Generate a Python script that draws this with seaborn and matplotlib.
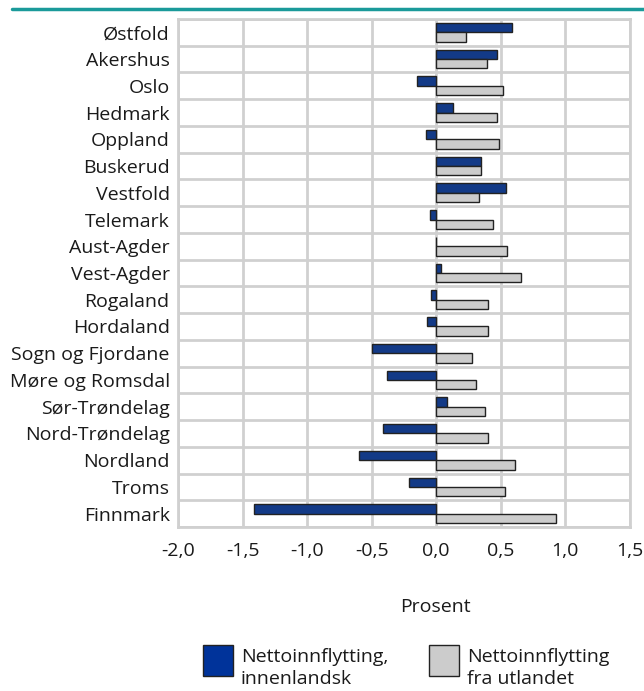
import matplotlib
matplotlib.use("Agg")
import matplotlib.pyplot as plt
from matplotlib.patches import Rectangle
from matplotlib.ticker import FuncFormatter, FixedLocator
import seaborn as sns
import pandas as pd

# Data
fylker = ["Østfold", "Akershus", "Oslo", "Hedmark", "Oppland", "Buskerud",
          "Vestfold", "Telemark", "Aust-Agder", "Vest-Agder", "Rogaland",
          "Hordaland", "Sogn og Fjordane", "Møre og Romsdal", "Sør-Trøndelag",
          "Nord-Trøndelag", "Nordland", "Troms", "Finnmark"]
innenlandsk = [0.59, 0.47, -0.15, 0.13, -0.08, 0.35, 0.54, -0.05, -0.005, 0.04,
               -0.04, -0.075, -0.50, -0.38, 0.08, -0.41, -0.60, -0.21, -1.41]
utlandet = [0.23, 0.39, 0.52, 0.47, 0.49, 0.35, 0.33, 0.44, 0.55, 0.66,
            0.40, 0.40, 0.28, 0.31, 0.38, 0.40, 0.61, 0.53, 0.93]
serier = ["Nettoinnflytting,\ninnenlandsk", "Nettoinnflytting\nfra utlandet"]
farger = ["#00339a", "#cccccc"]

df = pd.DataFrame({
    "fylke": fylker * 2,
    "verdi": innenlandsk + utlandet,
    "serie": [serier[0]] * len(fylker) + [serier[1]] * len(fylker),
})

sns.set_style("white")
plt.rcParams["font.family"] = ["Open Sans", "DejaVu Sans"]
fs = 14

W, H = 644, 691
fig = plt.figure(figsize=(6.44, 6.91), dpi=100)
ax = fig.add_axes([0.2764, 0.2373, 0.7016, 0.7352])

sns.barplot(data=df, x="verdi", y="fylke", hue="serie", orient="h",
            palette=farger, width=0.7, edgecolor="#222222", linewidth=1.0,
            ax=ax, legend=False)

ax.set_xlim(-2.0, 1.5)
ax.set_ylim(len(fylker) - 0.5, -0.5)
ax.set_xticks([-2.0, -1.5, -1.0, -0.5, 0.0, 0.5, 1.0, 1.5])
ax.xaxis.set_major_formatter(FuncFormatter(lambda v, p: f"{v:.1f}".replace(".", ",")))
ax.yaxis.set_minor_locator(FixedLocator([i + 0.5 for i in range(-1, len(fylker))]))
ax.grid(True, axis="x", which="major", color="#d0d0d0", linewidth=2)
ax.grid(True, axis="y", which="minor", color="#d0d0d0", linewidth=2)
ax.set_axisbelow(True)
for s in ax.spines.values():
    s.set_color("#d0d0d0")
    s.set_linewidth(2)
ax.tick_params(axis="both", which="both", length=0, labelsize=fs, colors="#1a1a1a")
ax.tick_params(axis="y", pad=6)
ax.tick_params(axis="x", pad=11)
ax.set_xlabel("")
ax.set_ylabel("")

fig.text(435 / W, 1 - 607 / H, "Prosent", ha="center", va="center",
         fontsize=fs, color="#1a1a1a")

# teal line at the top
fig.add_artist(plt.Line2D([12 / W, 1.0], [1 - 9 / H, 1 - 9 / H],
                          color="#1a9a9a", linewidth=2.5))

# legend, drawn by hand so the squares sit at the top of the text
for x0, farge, tekst in zip([203, 429], farger, serier):
    fig.add_artist(Rectangle((x0 / W, 1 - 676 / H), 30 / W, 31 / H,
                             transform=fig.transFigure, facecolor=farge,
                             edgecolor="#222222", linewidth=1.0))
    fig.text((x0 + 38) / W, 1 - 648 / H, tekst, ha="left", va="top",
             fontsize=fs, color="#1a1a1a", linespacing=1.3)

fig.savefig("out.png", dpi=100)
